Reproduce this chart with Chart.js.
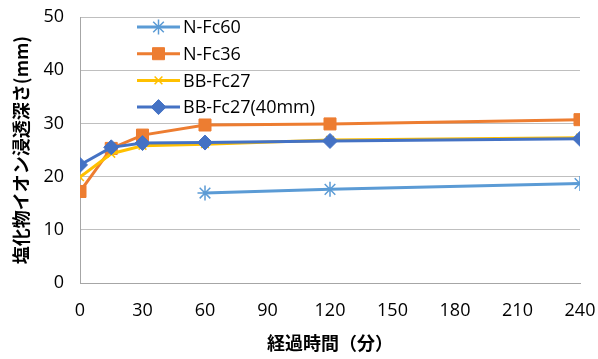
<!DOCTYPE html>
<html>
<head>
<meta charset="utf-8">
<script src="https://cdn.jsdelivr.net/npm/chart.js@4"></script>
<style>
  html, body { margin: 0; padding: 0; background: #fff; }
  #wrap { width: 598px; height: 359px; }
</style>
</head>
<body>
<div id="wrap"><canvas id="chart" width="598" height="359"></canvas></div>
<script>
// data
const seriesNames = ["N-Fc60", "N-Fc36", "BB-Fc27", "BB-Fc27(40mm)"];
const timesFc60 = [60, 120, 240];
const valuesFc60 = [16.9, 17.6, 18.7];
const times = [0, 15, 30, 60, 120, 240];
const valuesFc36 = [17.2, 25.3, 27.8, 29.7, 29.9, 30.7];
const valuesBB27 = [19.9, 24.3, 25.8, 26.1, 26.9, 27.3];
const valuesBB27_40 = [22.2, 25.5, 26.3, 26.4, 26.7, 27.1];
const xTitle = "経過時間（分）";
const yTitle = "塩化物イオン浸透深さ(mm)";

const colors = ["#5B9BD5", "#ED7D31", "#FFC000", "#4472C4"];
const markers = ["star", "rect", "crossRot", "rectRot"];
const radii = [7.5, 8.5, 5.5, 7.5];
const markerLines = [1.5, 1, 1.5, 1];

function pts(xs, ys) {
  return xs.map((x, i) => ({ x: x, y: ys[i] }));
}

const allData = [
  pts(timesFc60, valuesFc60),
  pts(times, valuesFc36),
  pts(times, valuesBB27),
  pts(times, valuesBB27_40)
];

const datasets = seriesNames.map((name, i) => ({
  label: name,
  data: allData[i],
  borderColor: colors[i],
  backgroundColor: colors[i],
  borderWidth: 3,
  pointStyle: markers[i],
  pointRadius: radii[i],
  pointBorderWidth: markerLines[i],
  pointBorderColor: colors[i],
  pointBackgroundColor: colors[i],
  tension: 0,
  order: 4 - i
}));

// legend drawn inside the plot area, as in the original
const insideLegend = {
  id: "insideLegend",
  afterDraw(chart) {
    const ctx = chart.ctx;
    ctx.save();
    seriesNames.forEach((name, i) => {
      const y = 27 + i * 26.7;
      const x0 = 137, x1 = 180;
      ctx.strokeStyle = colors[i];
      ctx.fillStyle = colors[i];
      ctx.lineWidth = 3;
      ctx.beginPath();
      ctx.moveTo(x0, y);
      ctx.lineTo(x1, y);
      ctx.stroke();
      ctx.lineWidth = markerLines[i];
      Chart.helpers.drawPoint(ctx, {
        pointStyle: markers[i],
        radius: radii[i],
        borderWidth: markerLines[i],
        rotation: 0
      }, (x0 + x1) / 2, y);
      ctx.fillStyle = "#000";
      ctx.font = "18px 'Open Sans', sans-serif";
      ctx.textAlign = "left";
      ctx.textBaseline = "middle";
      ctx.fillText(name, 183, y + 1);
    });
    ctx.restore();
  }
};

new Chart(document.getElementById("chart"), {
  type: "line",
  data: { datasets: datasets },
  options: {
    responsive: false,
    animation: false,
    layout: { padding: { top: 17, right: 18, left: 0, bottom: 0 } },
    plugins: { legend: { display: false }, tooltip: { enabled: false } },
    scales: {
      x: {
        type: "linear",
        min: 0,
        max: 240,
        afterFit(scale) {
          scale.height = 76;
          scale.paddingLeft = 0;
          scale.paddingRight = 0;
        },
        ticks: { stepSize: 30, color: "#000", padding: 17, maxRotation: 0, font: { family: "'Open Sans', sans-serif", size: 18 } },
        grid: { display: false, drawTicks: false },
        border: { color: "#A6A6A6", width: 1 },
        title: { display: true, text: xTitle, color: "#000", padding: { top: 5, bottom: 5 }, font: { family: "'Noto Sans CJK JP'", size: 18, weight: "bold" } }
      },
      y: {
        min: 0,
        max: 50,
        afterFit(scale) {
          scale.width = 80;
          scale.paddingTop = 0;
          scale.paddingBottom = 0;
        },
        ticks: { stepSize: 10, color: "#000", padding: 16, font: { family: "'Open Sans', sans-serif", size: 18 } },
        grid: { color: "#BFBFBF", lineWidth: 1, drawTicks: false },
        border: { color: "#A6A6A6", width: 1 },
        title: { display: true, text: yTitle, color: "#000", padding: { top: 10, bottom: 0 }, font: { family: "'Noto Sans CJK JP'", size: 18, weight: "bold" } }
      }
    }
  },
  plugins: [insideLegend]
});
</script>
</body>
</html>
